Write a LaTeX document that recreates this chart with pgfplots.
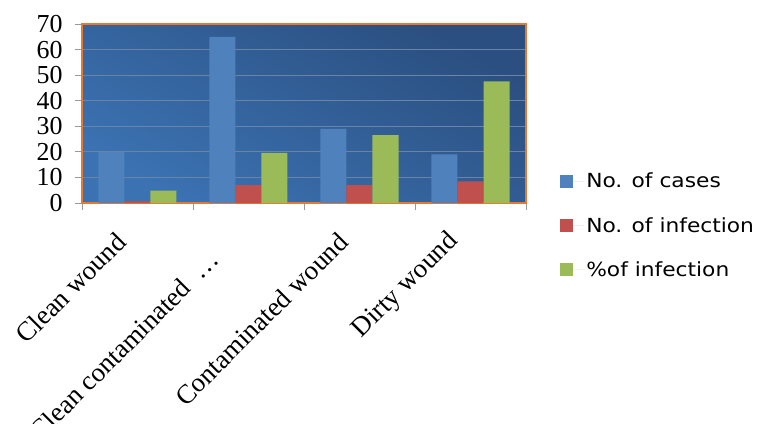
\documentclass[border=0pt]{standalone}
\usepackage{fontspec}
\setmainfont{Liberation Serif}
\newfontfamily\legfont[FakeStretch=1.12]{DejaVu Sans}
\usepackage{pgfplots}
\pgfplotsset{compat=1.18}
\definecolor{cblue}{HTML}{4F81BD}
\definecolor{cred}{HTML}{C0504D}
\definecolor{cgreen}{HTML}{9BBB59}
\definecolor{bgtop}{HTML}{2B4F80}
\definecolor{bgbot}{HTML}{3B72B2}
\definecolor{bordc}{HTML}{E8782E}
\definecolor{gridc}{HTML}{6A84A6}
\begin{document}
\begin{tikzpicture}
\useasboundingbox (-82bp,-221bp) rectangle (678bp,203bp);
\begin{axis}[
  at={(0,0)}, anchor=south west, scale only axis,
  width=444bp, height=179bp,
  ybar=0pt, bar width=26bp,
  xmin=-0.5, xmax=3.5, ymin=0, ymax=70,
  ytick={0,10,...,70},
  xtick={-0.5,0.5,1.5,2.5,3.5},
  xticklabels={,,,,,},
  extra x ticks={0,1,2,3},
  extra x tick labels={Clean wound, Clean contaminated \ \ldots\rule{25bp}{0pt}, Contaminated wound, Dirty wound},
  extra x tick style={major tick length=0pt},
  xticklabel style={font=\fontsize{27}{27}\selectfont, xshift=-14bp, yshift=-32bp, rotate=45, anchor=east},
  yticklabel style={font=\fontsize{26}{26}\selectfont, xshift=-9bp},
  /pgf/number format/assume math mode=true,
  tick align=outside, tick pos=left,
  major tick length=7bp,
  tick style={gray!80, line width=0.8bp},
  axis line style={bordc, line width=1.5bp},
  ymajorgrids, grid style={gridc, line width=0.8bp},
  axis background/.style={top color=bgtop, bottom color=bgbot, shading angle=-30},
  legend style={legend cell align=left, draw=none, fill=none,
    at={(axis description cs:1.07,-0.125)}, anchor=west,
    font=\legfont\fontsize{19.5}{21}\selectfont, row sep=24bp},
  legend image code/.code={\fill[#1] (0bp,-6.5bp) rectangle (13bp,6.5bp); \path (0bp,0bp) -- (24bp,0bp);},
]
\addplot[fill=cblue, draw=none] coordinates {(0,20) (1,65) (2,29) (3,19)};
\addplot[fill=cred, draw=none] coordinates {(0,0.6) (1,7) (2,7) (3,8.5)};
\addplot[fill=cgreen, draw=none] coordinates {(0,4.8) (1,19.6) (2,26.5) (3,47.6)};
\legend{No. of cases, No. of infection, \%of infection}
\end{axis}
\end{tikzpicture}
\end{document}
